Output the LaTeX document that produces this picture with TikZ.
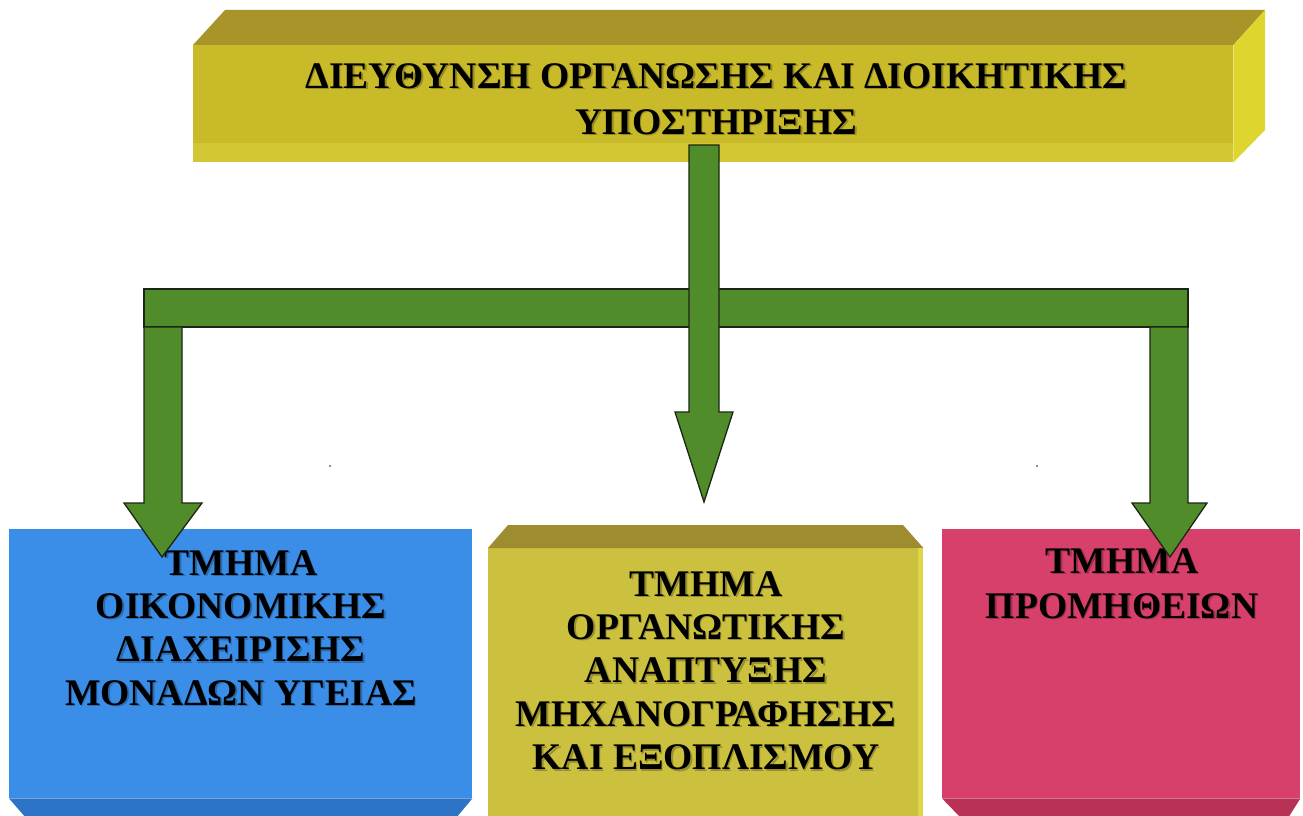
\documentclass[tikz,border=0pt]{standalone}
\usepackage{fontspec}
\setmainfont{Liberation Serif}
\definecolor{topfront}{RGB}{201,186,42}
\definecolor{toptop}{RGB}{168,148,40}
\definecolor{topright}{RGB}{222,214,46}
\definecolor{topband}{RGB}{210,198,52}
\definecolor{midfront}{RGB}{203,193,62}
\definecolor{midtop}{RGB}{158,140,48}
\definecolor{midedge}{RGB}{222,214,70}
\definecolor{bluefront}{RGB}{58,142,232}
\definecolor{bluebot}{RGB}{46,116,198}
\definecolor{pinkfront}{RGB}{214,64,106}
\definecolor{pinkbot}{RGB}{184,50,88}
\definecolor{arrowgreen}{RGB}{80,140,42}
\definecolor{arrowline}{RGB}{28,38,20}
\begin{document}
\begin{tikzpicture}[x=1pt,y=-1pt,
  face/.style={rectangle,draw=none,inner sep=0pt,anchor=north west},
  lbl/.style={font=\bfseries\fontsize{37.6}{43.4}\selectfont,align=center,inner sep=0pt,anchor=north,text=black},
  toplbl/.style={lbl,font=\bfseries\fontsize{37.6}{46}\selectfont},
  pinklbl/.style={lbl,font=\bfseries\fontsize{37.6}{45}\selectfont},
  shadowtext/.style={text opacity=0.25},
  blockarrow/.style={fill=arrowgreen,draw=arrowline,line width=1.3pt,line join=miter}
]
\useasboundingbox (0,0) rectangle (1303,816);
\fill[white] (0,0) rectangle (1303,816);

% ---- top box (cuboid) ----
\node[face,fill=topfront,minimum width=1040pt,minimum height=117pt] (top) at (193,45) {};
\fill[toptop] (top.north west) -- (225,10) -- (1265,10) -- (top.north east) -- cycle;
\fill[topright] (top.north east) -- (1265,10) -- (1265,130) -- (top.south east) -- cycle;
\fill[topband] (193,143) rectangle (1233,162);
\node[toplbl,shadowtext] (topshadow) at (718,64.5) {ΔΙΕΥΘΥΝΣΗ ΟΡΓΑΝΩΣΗΣ ΚΑΙ ΔΙΟΙΚΗΤΙΚΗΣ\\ΥΠΟΣΤΗΡΙΞΗΣ};
\node[toplbl] (toptext) at (716.5,63) {ΔΙΕΥΘΥΝΣΗ ΟΡΓΑΝΩΣΗΣ ΚΑΙ ΔΙΟΙΚΗΤΙΚΗΣ\\ΥΠΟΣΤΗΡΙΞΗΣ};

% ---- blue box ----
\node[face,fill=bluefront,minimum width=463pt,minimum height=269pt] (blue) at (9,529) {};
\fill[bluebot] (blue.south west) -- (blue.south east) -- (456,818) -- (26,818) -- cycle;
\node[lbl,shadowtext] (blueshadow) at (242.5,551.5) {ΤΜΗΜΑ\\ΟΙΚΟΝΟΜΙΚΗΣ\\ΔΙΑΧΕΙΡΙΣΗΣ\\ΜΟΝΑΔΩΝ ΥΓΕΙΑΣ};
\node[lbl] (bluetext) at (241,550) {ΤΜΗΜΑ\\ΟΙΚΟΝΟΜΙΚΗΣ\\ΔΙΑΧΕΙΡΙΣΗΣ\\ΜΟΝΑΔΩΝ ΥΓΕΙΑΣ};

% ---- middle box ----
\node[face,fill=midfront,minimum width=435pt,minimum height=272pt] (mid) at (488,548) {};
\fill[midtop] (mid.north west) -- (508,525) -- (903,525) -- (mid.north east) -- cycle;
\fill[midedge] (918,548) rectangle (923,820);
\node[lbl,shadowtext] (midshadow) at (707.5,572.5) {ΤΜΗΜΑ\\ΟΡΓΑΝΩΤΙΚΗΣ\\ΑΝΑΠΤΥΞΗΣ\\ΜΗΧΑΝΟΓΡΑΦΗΣΗΣ\\ΚΑΙ ΕΞΟΠΛΙΣΜΟΥ};
\node[lbl] (midtext) at (706,571) {ΤΜΗΜΑ\\ΟΡΓΑΝΩΤΙΚΗΣ\\ΑΝΑΠΤΥΞΗΣ\\ΜΗΧΑΝΟΓΡΑΦΗΣΗΣ\\ΚΑΙ ΕΞΟΠΛΙΣΜΟΥ};

% ---- pink box ----
\node[face,fill=pinkfront,minimum width=358pt,minimum height=269pt] (pink) at (942,529) {};
\fill[pinkbot] (pink.south west) -- (pink.south east) -- (1288,818) -- (961,818) -- cycle;
\node[pinklbl,shadowtext] (pinkshadow) at (1123.5,549.5) {ΤΜΗΜΑ\\ΠΡΟΜΗΘΕΙΩΝ};
\node[pinklbl] (pinktext) at (1122,548) {ΤΜΗΜΑ\\ΠΡΟΜΗΘΕΙΩΝ};

% ---- small specks ----
\fill[black!60] (330,466) circle (1.2pt);
\fill[black!60] (1037,466) circle (1.2pt);

% ---- green block arrows ----
\coordinate (barL) at (144,289);
\coordinate (barR) at (1188,327);
\draw[blockarrow] (barL) rectangle (barR);
% left leg
\draw[blockarrow] (144,327) -- (182,327) -- (182,503) -- (202,503) -- (162,557)
  -- (124,503) -- (144,503) -- cycle;
% right leg
\draw[blockarrow] (1150,327) -- (1188,327) -- (1188,503) -- (1207,503) -- (1170,557)
  -- (1132,503) -- (1150,503) -- cycle;
% central arrow from top box
\draw[blockarrow] (689,145) -- (719,145) -- (719,412) -- (733,412) -- (704,502)
  -- (675,412) -- (689,412) -- cycle;
\end{tikzpicture}
\end{document}
